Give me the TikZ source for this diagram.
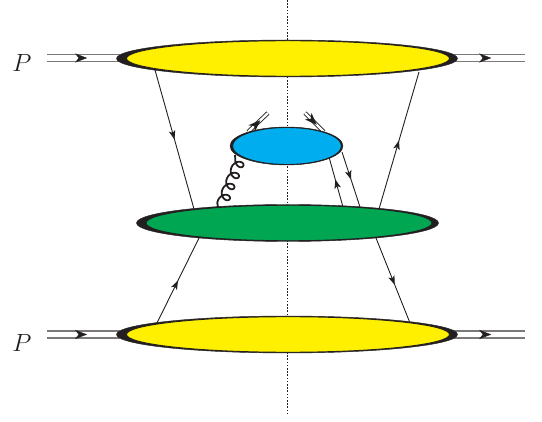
\documentclass[tikz,border=0pt]{standalone}
\usetikzlibrary{shapes.geometric,arrows.meta,decorations.markings}
\definecolor{yel}{RGB}{255,240,0}
\definecolor{grn}{RGB}{0,166,81}
\definecolor{blu}{RGB}{0,174,239}
\definecolor{ink}{RGB}{35,31,32}
\tikzset{
  blob/.style={ellipse,draw=ink,line width=.9pt,inner sep=0pt},
  under/.style={ellipse,fill=ink,draw=ink,line width=.4pt,inner sep=0pt},
  quark/.style={draw=ink,line width=.9pt},
  beam/.style={draw=ink!60,line width=1.4pt},
  midtip/.style={postaction={decorate},decoration={markings,mark=at position #1 with {\arrow{Stealth[length=9pt,width=6.5pt,inset=2.2pt,ink]}}}},
  bigtip/.style={postaction={decorate},decoration={markings,mark=at position #1 with {\arrow{Stealth[length=12pt,width=9pt,inset=3.5pt,ink]}}}},
  label/.style={inner sep=0pt,text=ink,font=\fontsize{29}{29}\selectfont},
}
\begin{document}
\begin{tikzpicture}[x=1pt,y=-1pt]
\useasboundingbox (0,0) rectangle (542,422);
\coordinate (cuttop) at (287,0);
\coordinate (cutbot) at (287,413);
\draw[ink,line width=.8pt,dash pattern=on 1.6pt off 1.6pt] (cuttop) -- (cutbot);
% quark lines
\coordinate (a1) at (155,70); \coordinate (a2) at (194,209);
\coordinate (b1) at (379,209); \coordinate (b2) at (419,72);
\coordinate (c1) at (157,323); \coordinate (c2) at (199,238);
\coordinate (d1) at (376,238); \coordinate (d2) at (410,323);
\coordinate (e1) at (343,207); \coordinate (e2) at (329,157);
\coordinate (f1) at (342,152); \coordinate (f2) at (360,207);
\draw[quark,midtip=.5] (a1) -- (a2);
\draw[quark,midtip=.5] (b1) -- (b2);
\draw[quark,midtip=.5] (c1) -- (c2);
\draw[quark,midtip=.55] (d1) -- (d2);
\draw[quark,midtip=.55] (e1) -- (e2);
\draw[quark,midtip=.5] (f1) -- (f2);
% gluon
\coordinate (g1) at (235,155);
\coordinate (g2) at (218,207);
\draw[ink,line width=1.8pt] (g1) -- plot[domain=0:4,samples=140,variable=\t] ({240.5-4.5*\t+5.2*cos(180-360*\t)},{159+11*\t+5.2*sin(180-360*\t)}) -- (g2);
% outgoing pair
\coordinate (h1) at (248,132); \coordinate (h2) at (268,113);
\coordinate (i1) at (324,132); \coordinate (i2) at (305,113);
\draw[ink,line width=.9pt,double=white,double distance=2.4pt,bigtip=.62] (h1) -- (h2);
\draw[ink,line width=.9pt,double=white,double distance=2.4pt,bigtip=.62] (i2) -- (i1);
% beams
\foreach \n/\xa/\xb/\yy in {tl/47/120/58,tr/450/525/58,bl/47/120/334.5,br/450/525/334.5}{
  \coordinate (\n1) at (\xa,\yy); \coordinate (\n2) at (\xb,\yy);
  \draw[beam] ([yshift=-3.6pt]\n1) -- ([yshift=-3.6pt]\n2);
  \draw[beam] ([yshift=3.6pt]\n1) -- ([yshift=3.6pt]\n2);
  \draw[draw=none,bigtip=.55] (\n1) -- (\n2);
}
% blobs
\node[under,minimum width=341pt,minimum height=37pt] (topu) at (287,58.5) {};
\node[blob,fill=yel,minimum width=323pt,minimum height=35.5pt] (top) at (288,58.5) {};
\node[under,minimum width=341pt,minimum height=37pt] (botu) at (287,334.5) {};
\node[blob,fill=yel,minimum width=323pt,minimum height=35.5pt] (bot) at (288,334.5) {};
\node[under,minimum width=302pt,minimum height=37pt] (midu) at (287.5,223) {};
\node[blob,fill=grn,minimum width=286pt,minimum height=35.5pt] (mid) at (289,223) {};
\node[under,minimum width=113pt,minimum height=38pt] (upu) at (286.5,146) {};
\node[blob,fill=blu,minimum width=109pt,minimum height=37pt] (up) at (287,146) {};
\node[label] (p1) at (22,63) {$P$};
\node[label] (p2) at (22,343) {$P$};
\end{tikzpicture}
\end{document}
